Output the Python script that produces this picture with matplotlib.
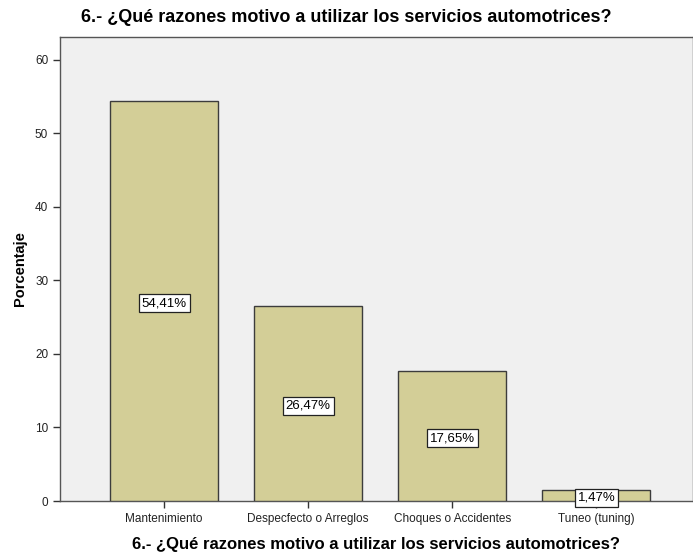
import matplotlib.pyplot as plt
import numpy as np

plt.rcParams['font.family'] = ['Liberation Sans', 'DejaVu Sans']

categorias = ['Mantenimiento', 'Despecfecto o Arreglos', 'Choques o Accidentes', 'Tuneo (tuning)']
porcentajes = [54.41, 26.47, 17.65, 1.47]
etiquetas = ['54,41%', '26,47%', '17,65%', '1,47%']
titulo = '6.- ¿Qué razones motivo a utilizar los servicios automotrices?'

fig = plt.figure(figsize=(6.93, 5.53), dpi=100)
ax = fig.add_axes([60 / 693, 52 / 553, 633 / 693, 464 / 553])
ax.set_facecolor('#F0F0F0')

x = np.arange(len(categorias))
ax.bar(x, porcentajes, width=0.75, color='#D3CE97', edgecolor='#3C3C3C', linewidth=1.0, zorder=3)

# etiquetas de valor en el centro de cada barra
for xi, v, txt in zip(x, porcentajes, etiquetas):
    ax.text(xi, v / 2 - 0.3, txt, ha='center', va='center', fontsize=9.5, zorder=4,
            bbox=dict(boxstyle='square,pad=0.22', facecolor='white', edgecolor='#222222', linewidth=0.9))

ax.set_xlim(-0.722, 3.67)
ax.set_ylim(0, 63.1)
ax.set_yticks([0, 10, 20, 30, 40, 50, 60])
ax.set_xticks(x)
ax.set_xticklabels(categorias, fontsize=8.5)
ax.tick_params(axis='y', labelsize=8.5, length=5, width=1, color='#333333', labelcolor='#222222')
ax.tick_params(axis='x', length=5, width=1, color='#333333', labelcolor='#222222')

for s in ax.spines.values():
    s.set_color('#555555')
    s.set_linewidth(1.0)

ax.set_ylabel('Porcentaje', fontsize=10.5, fontweight='bold', labelpad=6)
ax.set_xlabel(titulo, fontsize=12, fontweight='bold', labelpad=9)
fig.text(0.5, 1 - 17 / 553, titulo, ha='center', va='center', fontsize=13, fontweight='bold')

fig.savefig('out.png', dpi=100)
